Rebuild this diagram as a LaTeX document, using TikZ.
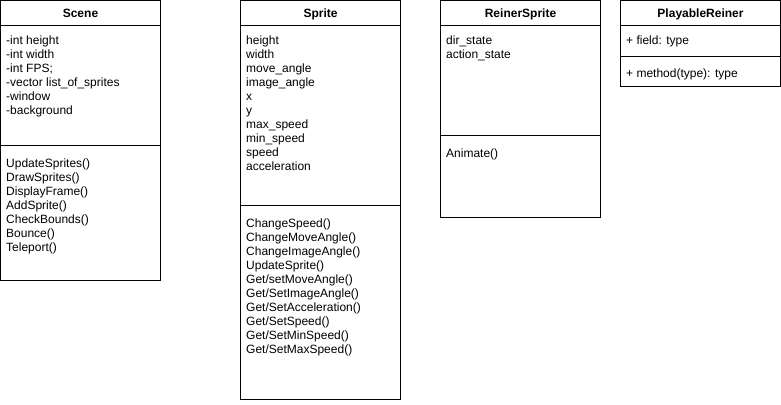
\documentclass[tikz,border=0pt]{standalone}
\usepackage{fontspec}
\setmainfont{Liberation Sans}
\usetikzlibrary{positioning}
\tikzstyle{classbox} = [line width=1pt]
\tikzstyle{classname} = [font=\fontsize{12}{14}\selectfont\bfseries,anchor=base,inner sep=0]
\tikzstyle{members} = [font=\fontsize{12}{14}\selectfont,anchor=north west,align=left,inner sep=0]

\begin{document}
\begin{tikzpicture}[x=1pt,y=-1pt]
\useasboundingbox (0,0) rectangle (781,404);

% Scene
\draw[classbox] (0.5,0.5) rectangle (160.5,280.5);
\draw[classbox] (0.5,26) -- (160.5,26);
\draw[classbox] (0.5,145) -- (160.5,145);
\node[classname] (scene) at (80.5,17.5) {Scene};
\node[members] (sceneattr) at (6,34.2) {\strut-int height\\-int width\\-int FPS;\\-vector list\_of\_sprites\\-window\\-background};
\node[members] (scenemeth) at (6,157.2) {\strut UpdateSprites()\\DrawSprites()\\DisplayFrame()\\AddSprite()\\CheckBounds()\\Bounce()\\Teleport()};

% Sprite
\draw[classbox] (240.5,0.5) rectangle (400.5,399.5);
\draw[classbox] (240.5,26) -- (400.5,26);
\draw[classbox] (240.5,205) -- (400.5,205);
\node[classname] (sprite) at (320.5,17.5) {Sprite};
\node[members] (spriteattr) at (246,34.2) {\strut height\\width\\move\_angle\\image\_angle\\x\\y\\max\_speed\\min\_speed\\speed\\acceleration};
\node[members] (spritemeth) at (246,217.2) {\strut ChangeSpeed()\\ChangeMoveAngle()\\ChangeImageAngle()\\UpdateSprite()\\Get/setMoveAngle()\\Get/SetImageAngle()\\Get/SetAcceleration()\\Get/SetSpeed()\\Get/SetMinSpeed()\\Get/SetMaxSpeed()};

% ReinerSprite
\draw[classbox] (440.5,0.5) rectangle (600.5,217.5);
\draw[classbox] (440.5,26) -- (600.5,26);
\draw[classbox] (440.5,135) -- (600.5,135);
\node[classname] (reiner) at (520.5,17.5) {ReinerSprite};
\node[members] (reinerattr) at (446,34.2) {\strut dir\_state\\action\_state};
\node[members] (reinermeth) at (446,147.2) {\strut Animate()};

% PlayableReiner
\draw[classbox] (620.5,0.5) rectangle (780.5,86.5);
\draw[classbox] (620.5,26) -- (780.5,26);
\draw[classbox] (620.5,57) -- (780.5,57);
\node[classname] (playable) at (700.5,17.5) {PlayableReiner};
\node[members] (playableattr) at (626,34.2) {\strut + field: type};
\node[members] (playablemeth) at (626,67.2) {\strut + method(type): type};

\end{tikzpicture}
\end{document}
